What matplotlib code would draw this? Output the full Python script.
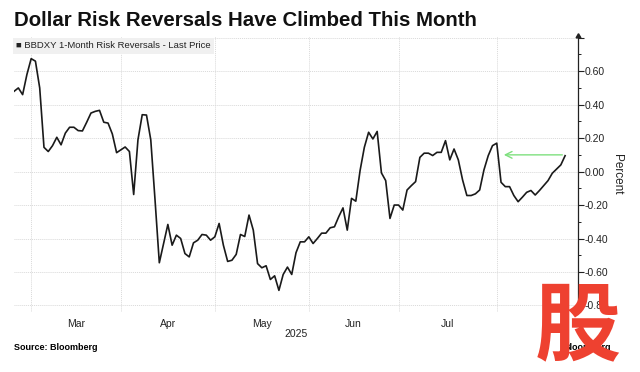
import numpy as np
import pandas as pd
import matplotlib
matplotlib.use("Agg")
import matplotlib.pyplot as plt
from matplotlib.ticker import FixedLocator, NullFormatter

# data: daily (business day) 1-month risk reversals
start_date = "2025-02-25"
end_date = "2025-08-25"
values = [
    0.48, 0.50, 0.46, 0.58, 0.675, 0.66, 0.50, 0.145, 0.12, 0.155,
    0.205, 0.16, 0.23, 0.265, 0.265, 0.245, 0.243, 0.295, 0.35, 0.36,
    0.366, 0.295, 0.29, 0.225, 0.113, 0.13, 0.147, 0.12, -0.137, 0.19,
    0.34, 0.338, 0.19, -0.17, -0.545, -0.43, -0.316, -0.44, -0.38, -0.40,
    -0.49, -0.51, -0.426, -0.41, -0.376, -0.38, -0.41, -0.39, -0.31, -0.44,
    -0.537, -0.53, -0.495, -0.376, -0.388, -0.26, -0.35, -0.55, -0.575, -0.563,
    -0.645, -0.623, -0.71, -0.615, -0.571, -0.615, -0.485, -0.42, -0.42, -0.39,
    -0.43, -0.40, -0.368, -0.368, -0.336, -0.33, -0.27, -0.217, -0.35, -0.16,
    -0.177, 0.006, 0.145, 0.235, 0.195, 0.24, -0.008, -0.054, -0.28, -0.2,
    -0.2, -0.23, -0.11, -0.084, -0.06, 0.085, 0.11, 0.11, 0.096, 0.115,
    0.115, 0.185, 0.07, 0.135, 0.07, -0.05, -0.143, -0.143, -0.133, -0.11,
    0.01, 0.095, 0.155, 0.17, -0.064, -0.09, -0.09, -0.143, -0.18, -0.153,
    -0.124, -0.113, -0.14, -0.113, -0.084, -0.054, -0.01, 0.015, 0.04, 0.095,
]
yticks = [-0.8, -0.6, -0.4, -0.2, 0.0, 0.2, 0.4, 0.6]
ytick_labels = ["-0.8", "-0.60", "-0.40", "-0.20", "0.00", "0.20", "0.40", "0.60"]
month_labels = ["Mar", "Apr", "May", "Jun", "Jul"]
arrow_start = "2025-08-01"
arrow_level = 0.10

title = "Dollar Risk Reversals Have Climbed This Month"
series_name = "BBDXY 1-Month Risk Reversals - Last Price"

from matplotlib import font_manager
names = {f.name for f in font_manager.fontManager.ttflist}
fam = "Liberation Sans" if "Liberation Sans" in names else "DejaVu Sans"
plt.rcParams['font.family'] = [fam, 'DejaVu Sans']

dates = pd.bdate_range(start_date, end_date)
df = pd.DataFrame({"date": dates, "value": values})
x = np.arange(len(df))

fig = plt.figure(figsize=(6.4, 3.72), dpi=100)
ax = fig.add_axes([0.022, 0.161, 0.881, 0.742])

ax.plot(x, df["value"], color="#1a1a1a", lw=1.2, zorder=3)

# month gridlines at first business day, labels mid month
firsts = df.groupby(df["date"].dt.to_period("M")).head(1).index.tolist()
grid_pos = [p for p in firsts if p > 0]
mids = [(grid_pos[i] + grid_pos[i + 1]) / 2 for i in range(len(month_labels))]
ax.xaxis.set_major_locator(FixedLocator(grid_pos))
ax.xaxis.set_major_formatter(NullFormatter())
ax.set_xticks(mids, month_labels, minor=True)
ax.tick_params(axis="x", which="both", length=0, labelsize=7.5, colors="#222222", pad=5)
ax.set_xlim(0, 132)
ax.set_ylim(-0.84, 0.81)

ax.yaxis.tick_right()
ax.set_yticks(yticks + [0.8], ytick_labels + [""])
ax.yaxis.set_minor_locator(FixedLocator(np.arange(-0.7, 0.81, 0.2)))
ax.tick_params(axis="y", which="major", length=4, width=0.8, labelsize=7.5, pad=1, colors="#222222")
ax.tick_params(axis="y", which="minor", length=2.5, width=0.6)
ax.yaxis.set_label_position("right")
ax.set_ylabel("Percent", rotation=-90, fontsize=8.5, labelpad=10, color="#222222")

ax.grid(True, which="major", axis="both", color="#d9d9d9", ls=(0, (1, 1)), lw=0.7)
for s in ["left", "top", "bottom"]:
    ax.spines[s].set_visible(False)
ax.spines["right"].set_color("#222222")
ax.spines["right"].set_linewidth(0.9)
ax.plot([1], [1], marker=(3, 0, 0), ms=4, color="#222222", transform=ax.transAxes, clip_on=False)

# green arrow
ai = df.index[df["date"] == pd.Timestamp(arrow_start)][0] + 1
ax.annotate("", xy=(ai, arrow_level), xytext=(x[-1], arrow_level),
            arrowprops=dict(arrowstyle="->", color="#7ee07e", lw=1.0, mutation_scale=12), zorder=4)

# legend box
ax.text(0.004, 0.965, "\u25a0 " + series_name, transform=ax.transAxes, fontsize=6.8, va="center",
        ha="left", color="#222222",
        bbox=dict(boxstyle="square,pad=0.35", fc="#f0f0f0", ec="none"), zorder=5)

fig.text(0.022, 0.945, title, fontsize=14.7, fontweight="bold", ha="left", va="center", color="#111111")
fig.text(0.463, 0.102, "2025", fontsize=7.5, ha="center", va="center", color="#222222")
fig.text(0.022, 0.065, "Source: Bloomberg", fontsize=6.5, fontweight="bold", ha="left", va="center")
fig.text(0.955, 0.065, "Bloomberg", fontsize=6.5, fontweight="bold", ha="right", va="center")
# site watermark over the corner
fig.text(0.903, 0.118, "股", fontsize=62, fontweight="bold", color="#ee4130", ha="center", va="center",
         family=["Noto Sans CJK SC", "DejaVu Sans"])

fig.savefig("out.png", dpi=100)
